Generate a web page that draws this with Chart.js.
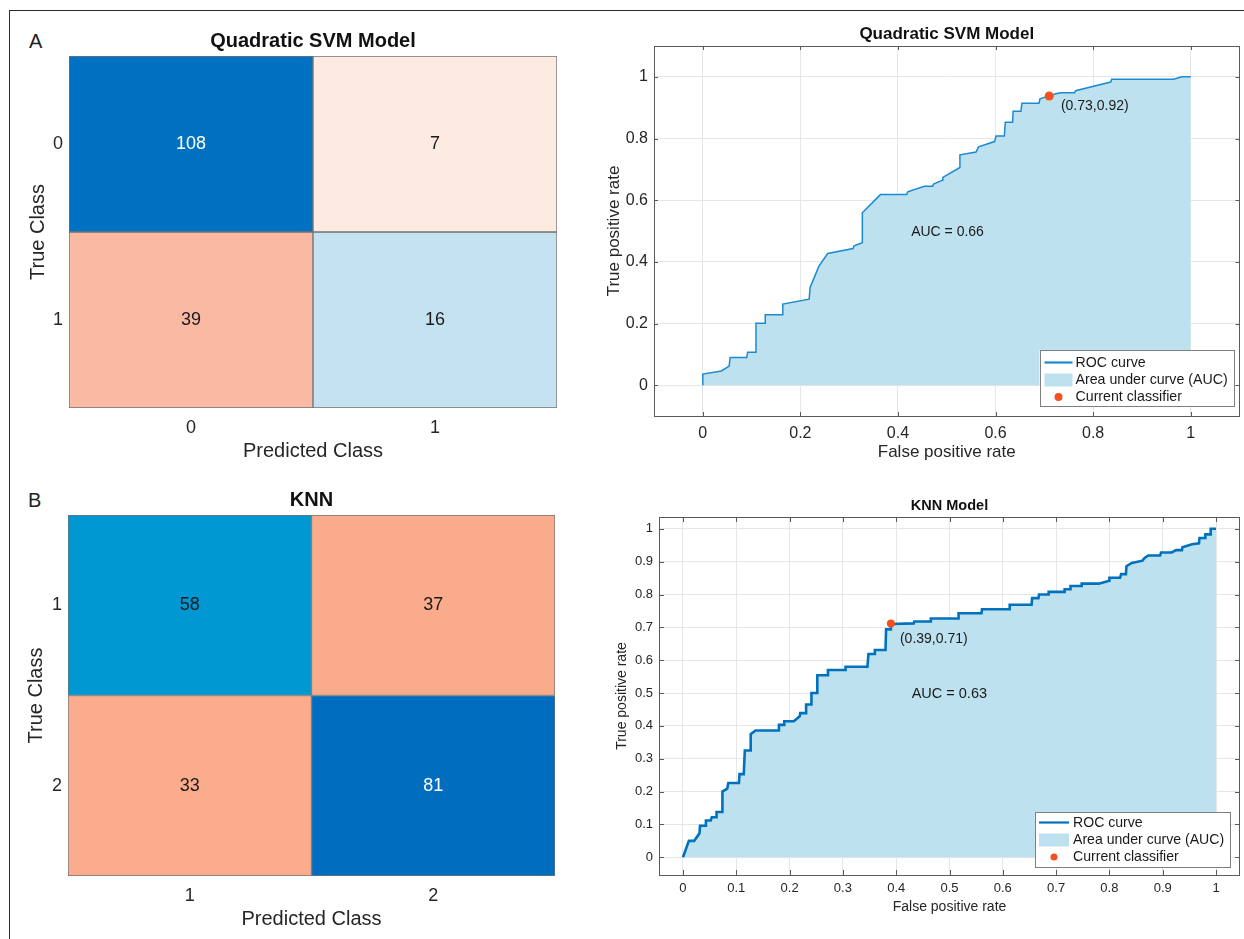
<!DOCTYPE html>
<html>
<head>
<meta charset="utf-8">
<script src="https://cdn.jsdelivr.net/npm/chart.js@4.4.1/dist/chart.umd.min.js"></script>
<style>
  html, body { margin: 0; padding: 0; background: #fff; width: 1244px; height: 939px; overflow: hidden; }
  canvas { position: absolute; }
  .frame { position: absolute; left: 9px; top: 10px; width: 1260px; height: 960px;
           border-top: 1.5px solid #2a2a2a; border-left: 1.5px solid #2a2a2a; }
  .panel { position: absolute; font-family: "Liberation Sans", Arial, Helvetica, sans-serif;
           font-size: 20px; line-height: 20px; color: #222; }
</style>
</head>
<body>
<div class="frame"></div>
<div class="panel" style="left:29px;top:31px">A</div>
<div class="panel" style="left:28px;top:490px">B</div>
<canvas id="cmA" width="590" height="458" style="left:10px;top:12px"></canvas>
<canvas id="cmB" width="590" height="469" style="left:10px;top:470px"></canvas>
<canvas id="rocA" width="644" height="458" style="left:600px;top:12px"></canvas>
<canvas id="rocB" width="644" height="469" style="left:600px;top:470px"></canvas>
<script>
// ---------------- DATA ----------------
const cmAClasses = ['0', '1'];
const cmAValues = [[108, 7], [39, 16]];
const cmAColors = [['#0070C0', '#FDEAE1'], ['#F9B9A3', '#C5E2F1']];
const cmATextColors = [['#FFFFFF', '#1A1A1A'], ['#1A1A1A', '#1A1A1A']];

const cmBClasses = ['1', '2'];
const cmBValues = [[58, 37], [33, 81]];
const cmBColors = [['#0098D3', '#FAAB8B'], ['#FAAC8D', '#006DBE']];
const cmBTextColors = [['#1A1A1A', '#1A1A1A'], ['#1A1A1A', '#FFFFFF']];

const rocATicks = [0, 0.2, 0.4, 0.6, 0.8, 1];
const rocATickLabels = ['0', '0.2', '0.4', '0.6', '0.8', '1'];
const rocAFpr = [0, 0, 0.038, 0.054, 0.056, 0.090, 0.092, 0.109, 0.109, 0.128, 0.128, 0.164, 0.164,
  0.218, 0.220, 0.238, 0.256, 0.308, 0.310, 0.327, 0.327, 0.364, 0.418, 0.420, 0.454, 0.471, 0.473,
  0.491, 0.492, 0.527, 0.527, 0.560, 0.565, 0.598, 0.601, 0.618, 0.620, 0.635, 0.636, 0.652, 0.654,
  0.689, 0.691, 0.703, 0.722, 0.733, 0.762, 0.764, 0.836, 0.838, 0.965, 0.982, 1.0];
const rocATpr = [0, 0.036, 0.046, 0.062, 0.090, 0.090, 0.107, 0.107, 0.201, 0.201, 0.228, 0.228, 0.263,
  0.279, 0.317, 0.386, 0.427, 0.443, 0.452, 0.462, 0.559, 0.618, 0.618, 0.627, 0.645, 0.645, 0.652,
  0.665, 0.674, 0.706, 0.747, 0.756, 0.773, 0.790, 0.808, 0.808, 0.853, 0.853, 0.888, 0.888, 0.914,
  0.914, 0.929, 0.935, 0.944, 0.948, 0.948, 0.955, 0.983, 0.992, 0.992, 1.0, 1.0];
const rocAPoint = { x: 0.71, y: 0.938 };
const rocAPointLabel = '(0.73,0.92)';
const rocAAucLabel = 'AUC = 0.66';

const rocBTicks = [0, 0.1, 0.2, 0.3, 0.4, 0.5, 0.6, 0.7, 0.8, 0.9, 1];
const rocBTickLabels = ['0', '0.1', '0.2', '0.3', '0.4', '0.5', '0.6', '0.7', '0.8', '0.9', '1'];
const rocBFpr = [0, 0.011, 0.021, 0.031, 0.032, 0.042, 0.043, 0.052, 0.054, 0.062,
  0.063, 0.074, 0.074, 0.083, 0.085, 0.105, 0.106, 0.114, 0.116, 0.127,
  0.127, 0.136, 0.179, 0.180, 0.190, 0.190, 0.208, 0.219, 0.220, 0.231,
  0.231, 0.241, 0.241, 0.252, 0.252, 0.272, 0.272, 0.305, 0.305, 0.346,
  0.348, 0.359, 0.360, 0.380, 0.381, 0.389, 0.390, 0.433, 0.434, 0.464,
  0.465, 0.516, 0.517, 0.560, 0.561, 0.612, 0.613, 0.654, 0.655, 0.667,
  0.668, 0.685, 0.686, 0.716, 0.716, 0.727, 0.727, 0.747, 0.748, 0.780,
  0.800, 0.800, 0.820, 0.822, 0.831, 0.832, 0.842, 0.862, 0.866, 0.873,
  0.895, 0.897, 0.917, 0.925, 0.936, 0.937, 0.955, 0.968, 0.969, 0.980,
  0.980, 0.989, 0.990, 1.0];
const rocBTpr = [0, 0.050, 0.050, 0.073, 0.096, 0.096, 0.112, 0.112, 0.122, 0.122,
  0.138, 0.138, 0.200, 0.209, 0.226, 0.226, 0.253, 0.253, 0.325, 0.325,
  0.375, 0.386, 0.386, 0.403, 0.403, 0.414, 0.414, 0.429, 0.439, 0.439,
  0.465, 0.465, 0.500, 0.500, 0.554, 0.554, 0.570, 0.570, 0.580, 0.580,
  0.619, 0.619, 0.631, 0.631, 0.694, 0.694, 0.710, 0.712, 0.718, 0.718,
  0.727, 0.727, 0.743, 0.743, 0.755, 0.755, 0.769, 0.769, 0.789, 0.789,
  0.800, 0.800, 0.808, 0.808, 0.816, 0.816, 0.826, 0.826, 0.833, 0.833,
  0.842, 0.851, 0.851, 0.862, 0.862, 0.886, 0.896, 0.903, 0.911, 0.919,
  0.919, 0.928, 0.928, 0.935, 0.935, 0.944, 0.953, 0.956, 0.972, 0.972,
  0.983, 0.983, 1.0, 1.0];
const rocBPoint = { x: 0.39, y: 0.712 };
const rocBPointLabel = '(0.39,0.71)';
const rocBAucLabel = 'AUC = 0.63';

const legendLabels = ['ROC curve', 'Area under curve (AUC)', 'Current classifier'];

// ---------------- STYLE ----------------
const FONT = '"Liberation Sans", Arial, Helvetica, sans-serif';
const TXT = '#262626';
const GRID = '#E6E6E6';
const AUC_FILL = '#BEE1F0';
const DOT = '#F4511E';
const BOX = '#5A5A5A';

Chart.defaults.font.family = FONT;
Chart.defaults.color = TXT;

// ---------------- CONFUSION MATRIX ----------------
function makeCM(id, o) {
  const cellText = {
    id: 'cellText',
    afterDatasetsDraw(chart) {
      const ctx = chart.ctx;
      ctx.save();
      ctx.font = `${o.valueSize}px ${FONT}`;
      ctx.textAlign = 'center';
      ctx.textBaseline = 'middle';
      chart.data.datasets.forEach((ds, i) => {
        chart.getDatasetMeta(i).data.forEach((el, j) => {
          ctx.fillStyle = o.textColors[i][j];
          ctx.fillText(String(o.values[i][j]), el.x, (el.y + el.base) / 2);
        });
      });
      ctx.restore();
    }
  };
  return new Chart(document.getElementById(id), {
    type: 'bar',
    data: {
      labels: o.classes,
      datasets: o.classes.map((rowName, r) => ({
        label: rowName,
        data: o.classes.map(() => [r - 0.5, r + 0.5]),
        backgroundColor: o.colors[r],
        borderColor: '#737373',
        borderWidth: 1,
        borderSkipped: false,
        barPercentage: 1,
        categoryPercentage: 1,
        grouped: false
      }))
    },
    options: {
      responsive: false,
      animation: false,
      devicePixelRatio: 1,
      events: [],
      layout: { padding: { top: 0, left: 0, right: o.padRight, bottom: 0 } },
      plugins: {
        legend: { display: false },
        tooltip: { enabled: false },
        title: {
          display: true, text: o.title, fullSize: false, color: '#111',
          font: { family: FONT, size: 20, weight: 'bold', lineHeight: 1.2 },
          padding: { top: o.titleTop, bottom: o.titleBottom }
        }
      },
      scales: {
        x: {
          type: 'category',
          grid: { display: false, drawTicks: false },
          border: { display: false },
          ticks: { font: { size: 18 }, color: TXT, padding: o.xTickPad, maxRotation: 0 },
          title: { display: true, text: 'Predicted Class', color: TXT,
                   font: { size: 20, lineHeight: 1.2 }, padding: { top: 0, bottom: o.xTitlePad } },
          afterFit: s => { s.height = o.xAxisH; }
        },
        y: {
          type: 'linear', min: -0.5, max: 1.5, reverse: true,
          afterBuildTicks: s => { s.ticks = o.classes.map((c, i) => ({ value: i })); },
          grid: { display: false, drawTicks: false },
          border: { display: false },
          ticks: { font: { size: 18 }, color: TXT, padding: o.yTickPad, autoSkip: false,
                   callback: v => o.classes[v] },
          title: { display: true, text: 'True Class', color: TXT,
                   font: { size: 20, lineHeight: 1.2 }, padding: { top: o.yTitlePad, bottom: 0 } },
          afterFit: s => { s.width = o.yAxisW; }
        }
      }
    },
    plugins: [cellText]
  });
}

makeCM('cmA', {
  classes: cmAClasses, values: cmAValues, colors: cmAColors, textColors: cmATextColors,
  title: 'Quadratic SVM Model', valueSize: 18,
  padRight: 43, titleTop: 17.7, titleBottom: 2.3,
  xAxisH: 62, xTickPad: 9.5, xTitlePad: 6.3,
  yAxisW: 59, yTickPad: 6, yTitlePad: 16
});
makeCM('cmB', {
  classes: cmBClasses, values: cmBValues, colors: cmBColors, textColors: cmBTextColors,
  title: 'KNN', valueSize: 18,
  padRight: 45, titleTop: 18.7, titleBottom: 2.3,
  xAxisH: 63, xTickPad: 9, xTitlePad: 8,
  yAxisW: 58, yTickPad: 6, yTitlePad: 14.4
});

// ---------------- ROC ----------------
function makeROC(id, o) {
  const decor = {
    id: 'rocDecor',
    afterDatasetsDraw(chart) {
      const { ctx, scales: { x, y } } = chart;
      ctx.save();
      ctx.fillStyle = '#1A1A1A';
      ctx.textAlign = 'left';
      ctx.textBaseline = 'middle';
      ctx.font = `${o.aucSize}px ${FONT}`;
      ctx.fillText(o.aucLabel, x.getPixelForValue(o.aucPos.x), y.getPixelForValue(o.aucPos.y));
      ctx.font = `${o.ptSize}px ${FONT}`;
      ctx.fillText(o.pointLabel, x.getPixelForValue(o.ptPos.x), y.getPixelForValue(o.ptPos.y));
      ctx.restore();
    },
    afterDraw(chart) {
      const { ctx, chartArea: a, scales: { x, y } } = chart;
      ctx.save();
      // axes box
      ctx.strokeStyle = BOX;
      ctx.lineWidth = 1;
      ctx.strokeRect(Math.round(a.left) + 0.5, Math.round(a.top) + 0.5,
                     Math.round(a.right - a.left) - 1, Math.round(a.bottom - a.top));
      // inward tick marks
      ctx.beginPath();
      x.ticks.forEach(t => {
        const px = Math.round(x.getPixelForValue(t.value)) + 0.5;
        ctx.moveTo(px, a.bottom); ctx.lineTo(px, a.bottom - o.tickLen);
        ctx.moveTo(px, a.top); ctx.lineTo(px, a.top + o.tickLen);
      });
      y.ticks.forEach(t => {
        const py = Math.round(y.getPixelForValue(t.value)) + 0.5;
        ctx.moveTo(a.left, py); ctx.lineTo(a.left + o.tickLen, py);
        ctx.moveTo(a.right, py); ctx.lineTo(a.right - o.tickLen, py);
      });
      ctx.stroke();
      // legend
      const L = o.legend;
      const bx = a.right - L.right - L.w, by = a.bottom - L.bottom - L.h;
      ctx.fillStyle = '#FFFFFF';
      ctx.fillRect(bx, by, L.w, L.h);
      ctx.strokeStyle = '#7F7F7F';
      ctx.strokeRect(Math.round(bx) + 0.5, Math.round(by) + 0.5, L.w, L.h);
      const sx = bx + L.sampleX, tx = bx + L.textX;
      const rows = L.rows.map(r => by + r);
      ctx.strokeStyle = o.lineColor;
      ctx.lineWidth = 2.2;
      ctx.beginPath(); ctx.moveTo(sx, rows[0]); ctx.lineTo(sx + L.sampleW, rows[0]); ctx.stroke();
      ctx.fillStyle = AUC_FILL;
      ctx.fillRect(sx, rows[1] - 6.5, L.sampleW, 13);
      ctx.fillStyle = DOT;
      ctx.beginPath(); ctx.arc(sx + L.sampleW / 2, rows[2], o.dotR - 0.5, 0, Math.PI * 2); ctx.fill();
      ctx.fillStyle = '#1A1A1A';
      ctx.font = `${L.size}px ${FONT}`;
      ctx.textAlign = 'left';
      ctx.textBaseline = 'middle';
      legendLabels.forEach((t, i) => ctx.fillText(t, tx, rows[i] + 0.5));
      ctx.restore();
    }
  };
  return new Chart(document.getElementById(id), {
    type: 'line',
    data: {
      datasets: [
        {
          label: legendLabels[0],
          data: o.fpr.map((v, i) => ({ x: v, y: o.tpr[i] })),
          borderColor: o.lineColor, borderWidth: o.lineWidth,
          pointRadius: 0, tension: 0, fill: 'origin', backgroundColor: AUC_FILL,
          order: 2
        },
        {
          label: legendLabels[2],
          data: [o.point],
          showLine: false, pointRadius: o.dotR, pointBackgroundColor: DOT,
          pointBorderWidth: 0, order: 1
        }
      ]
    },
    options: {
      responsive: false,
      animation: false,
      devicePixelRatio: 1,
      events: [],
      layout: { padding: { top: 0, left: 0, right: o.padRight, bottom: 0 } },
      plugins: {
        legend: { display: false },
        tooltip: { enabled: false },
        title: {
          display: true, text: o.title, fullSize: false, color: '#111',
          font: { family: FONT, size: o.titleSize, weight: 'bold', lineHeight: 1.2 },
          padding: { top: o.titleTop, bottom: o.titleBottom }
        }
      },
      scales: {
        x: {
          type: 'linear', min: o.xMin, max: o.xMax,
          afterBuildTicks: s => { s.ticks = o.ticks.map(v => ({ value: v })); },
          grid: { color: GRID, drawTicks: false, lineWidth: 1 },
          border: { display: false },
          ticks: { font: { size: o.tickSize }, color: TXT, padding: o.xTickPad, maxRotation: 0, autoSkip: false,
                   callback: (v, i) => o.tickLabels[i] },
          title: { display: true, text: 'False positive rate', color: TXT,
                   font: { size: o.axisTitleSize, lineHeight: 1.2 }, padding: { top: 0, bottom: o.xTitlePad } },
          afterFit: s => { s.height = o.xAxisH; }
        },
        y: {
          type: 'linear', min: o.yMin, max: o.yMax,
          afterBuildTicks: s => { s.ticks = o.ticks.map(v => ({ value: v })); },
          grid: { color: GRID, drawTicks: false, lineWidth: 1 },
          border: { display: false },
          ticks: { font: { size: o.tickSize }, color: TXT, padding: o.yTickPad, autoSkip: false,
                   callback: (v, i) => o.tickLabels[i] },
          title: { display: true, text: 'True positive rate', color: TXT,
                   font: { size: o.axisTitleSize, lineHeight: 1.2 }, padding: { top: o.yTitlePad, bottom: 0 } },
          afterFit: s => { s.width = o.yAxisW; }
        }
      }
    },
    plugins: [decor]
  });
}

makeROC('rocA', {
  fpr: rocAFpr, tpr: rocATpr, ticks: rocATicks, tickLabels: rocATickLabels, point: rocAPoint,
  pointLabel: rocAPointLabel, aucLabel: rocAAucLabel,
  aucPos: { x: 0.427, y: 0.496 }, ptPos: { x: 0.734, y: 0.905 },
  aucSize: 14, ptSize: 14,
  lineColor: '#1A8BD0', lineWidth: 1.5, dotR: 4.5,
  title: 'Quadratic SVM Model', titleSize: 17, titleTop: 11.8, titleBottom: 1.8,
  xMin: -0.1, xMax: 1.1, yMin: -0.1, yMax: 1.1,
  padRight: 2, xAxisH: 54, yAxisW: 54,
  tickSize: 16, axisTitleSize: 17,
  xTickPad: 8, xTitlePad: 7.8, yTickPad: 6, yTitlePad: 3.8,
  tickLen: 4,
  legend: { w: 194, h: 56, right: 6, bottom: 10, sampleX: 5, sampleW: 28, textX: 36,
            rows: [12.5, 30, 47], size: 14.2 }
});

makeROC('rocB', {
  fpr: rocBFpr, tpr: rocBTpr, ticks: rocBTicks, tickLabels: rocBTickLabels, point: rocBPoint,
  pointLabel: rocBPointLabel, aucLabel: rocBAucLabel,
  aucPos: { x: 0.429, y: 0.497 }, ptPos: { x: 0.407, y: 0.664 },
  aucSize: 14.5, ptSize: 14,
  lineColor: '#0072BD', lineWidth: 2.6, dotR: 4,
  title: 'KNN Model', titleSize: 14.5, titleTop: 27.3, titleBottom: 2.3,
  xMin: -0.045, xMax: 1.045, yMin: -0.054, yMax: 1.036,
  padRight: 2, xAxisH: 64, yAxisW: 59,
  tickSize: 13, axisTitleSize: 14,
  xTickPad: 6, xTitlePad: 23.6, yTickPad: 6, yTitlePad: 14,
  tickLen: 5,
  legend: { w: 195, h: 55, right: 10, bottom: 8, sampleX: 4, sampleW: 30, textX: 38,
            rows: [10.5, 28, 45], size: 14.1 }
});
</script>
</body>
</html>
